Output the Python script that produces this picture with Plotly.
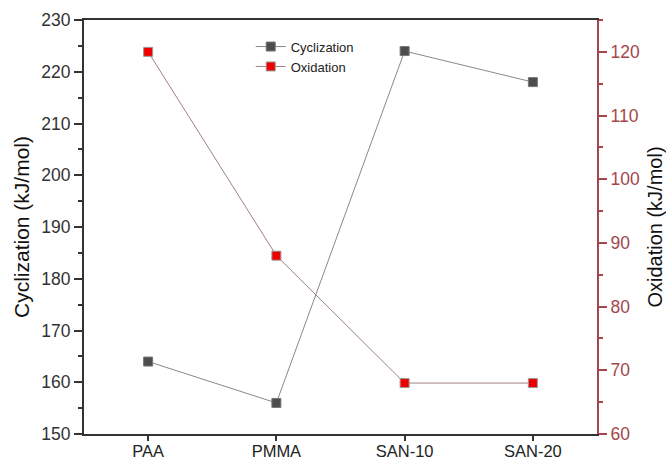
import plotly.graph_objects as go

categories = ["PAA", "PMMA", "SAN-10", "SAN-20"]
cyclization = [164, 156, 224, 218]
oxidation = [120, 88, 68, 68]

axis_dark = "#333333"
red_axis = "#a4464a"
font_family = "Liberation Sans, Arial, sans-serif"

fig = go.Figure()
fig.add_trace(go.Scatter(
    x=categories, y=cyclization, name="Cyclization", mode="lines+markers",
    line=dict(color="#888888", width=1),
    marker=dict(symbol="square", size=9, color="#4d4d4d", line=dict(color="#777777", width=1)),
))
fig.add_trace(go.Scatter(
    x=categories, y=oxidation, name="Oxidation", mode="lines+markers", yaxis="y2",
    line=dict(color="#a08080", width=1),
    marker=dict(symbol="square", size=9, color="#ee0000", line=dict(color="#999999", width=1)),
))

fig.update_layout(
    width=666, height=462,
    margin=dict(l=84, r=69, t=20, b=28),
    paper_bgcolor="white", plot_bgcolor="white",
    font=dict(family=font_family, size=17, color="#333333"),
    showlegend=True,
    legend=dict(x=0.325, y=0.972, xanchor="left", yanchor="top",
                bgcolor="rgba(0,0,0,0)", font=dict(size=13, color="#222222"),
                tracegroupgap=0, itemwidth=30),
    xaxis=dict(
        range=[-0.5, 3.5], showgrid=False, zeroline=False, automargin=False,
        showline=True, linecolor=axis_dark, linewidth=2, mirror=True,
        ticks="outside", ticklen=5, tickwidth=2, tickcolor=axis_dark,
        ticklabelstandoff=-4,
        tickfont=dict(size=16.5, color="#222222"),
    ),
    yaxis=dict(
        range=[150, 230], dtick=10, showgrid=False, zeroline=False, automargin=False,
        showline=True, linecolor=axis_dark, linewidth=2,
        ticks="outside", ticklen=8, tickwidth=2, tickcolor=axis_dark,
        tickfont=dict(size=17.5, color="#333333"),
        minor=dict(dtick=5, ticks="outside", ticklen=4, tickwidth=1.5, tickcolor=axis_dark),
        title=dict(text="Cyclization (kJ/mol)", font=dict(size=21, color="#111111"), standoff=6),
    ),
    yaxis2=dict(
        range=[60, 125], dtick=10, tick0=60, overlaying="y", side="right",
        showgrid=False, zeroline=False, automargin=False,
        showline=True, linecolor=red_axis, linewidth=2,
        ticks="outside", ticklen=8, tickwidth=2, tickcolor=red_axis,
        tickfont=dict(size=17.5, color=red_axis),
        minor=dict(dtick=5, tick0=60, ticks="outside", ticklen=4, tickwidth=1.5, tickcolor=red_axis),
        title=dict(text="Oxidation (kJ/mol)", font=dict(size=20, color="#111111"), standoff=11),
    ),
)

fig.write_html("out.html")
